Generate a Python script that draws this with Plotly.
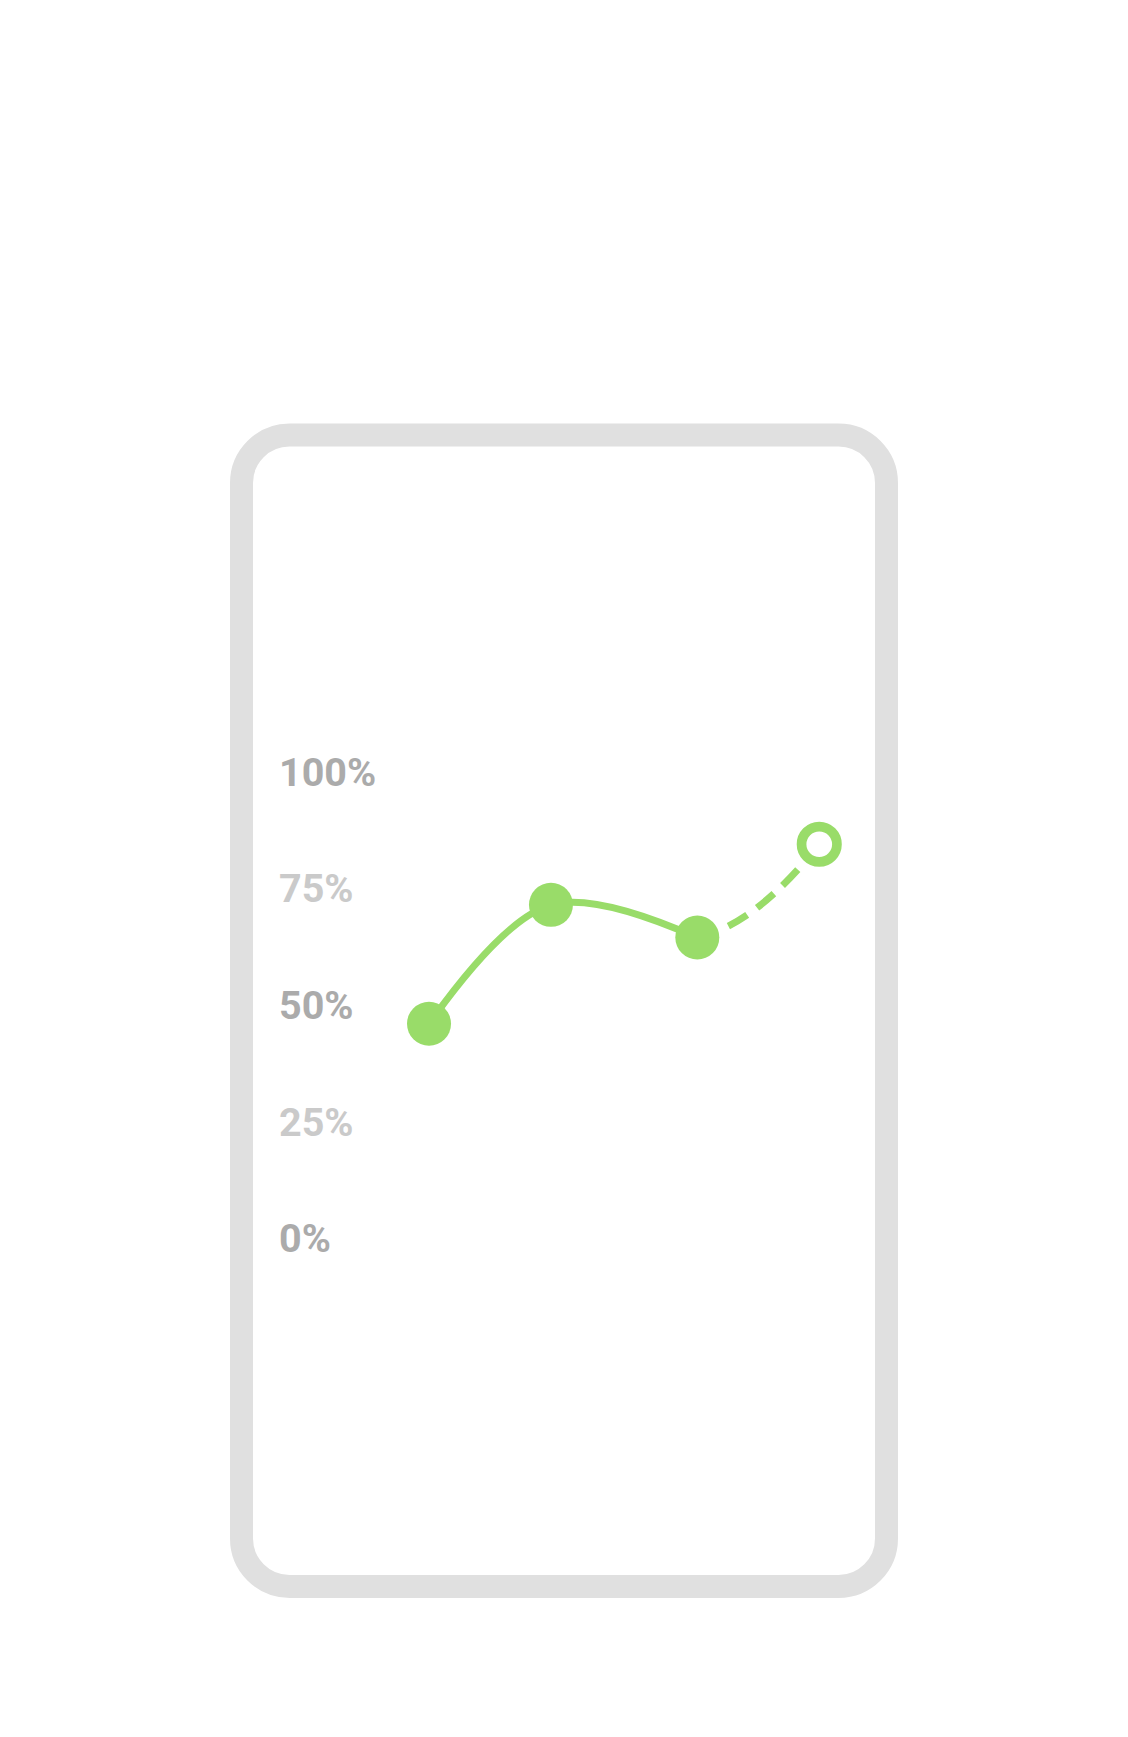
import plotly.graph_objects as go

# ---- data ----
x_vals = [0, 5, 11, 16]
y_vals = [46, 71.5, 64.5, 84.5]
tick_vals = [0, 25, 50, 75, 100]
tick_labels = ["0%", "25%", "50%", "75%", "100%"]
tick_colors = ["#ABABAB", "#CACACA", "#ABABAB", "#CACACA", "#ABABAB"]

GREEN = "#99DC69"
FRAME = "#E0E0E0"

W, H = 1128, 1737
ML, MR, MT, MB = 276, 259, 600, 337
PW = W - ML - MR
PH = H - MT - MB


def px(x):
    return (x - ML) / PW


def py(y):
    return (H - MB - y) / PH


# rounded frame (decorative, in pixel space converted to paper coords)
fx0, fx1, fy0, fy1, r = 241.5, 886.5, 435, 1586.5, 48
k = 0.5523 * r
pts = [
    ("M", [(fx0 + r, fy0)]),
    ("L", [(fx1 - r, fy0)]),
    ("C", [(fx1 - r + k, fy0), (fx1, fy0 + r - k), (fx1, fy0 + r)]),
    ("L", [(fx1, fy1 - r)]),
    ("C", [(fx1, fy1 - r + k), (fx1 - r + k, fy1), (fx1 - r, fy1)]),
    ("L", [(fx0 + r, fy1)]),
    ("C", [(fx0 + r - k, fy1), (fx0, fy1 - r + k), (fx0, fy1 - r)]),
    ("L", [(fx0, fy0 + r)]),
    ("C", [(fx0, fy0 + r - k), (fx0 + r - k, fy0), (fx0 + r, fy0)]),
]
path = ""
for cmd, ps in pts:
    path += cmd + " " + " ".join(f"{px(a):.5f},{py(b):.5f}" for a, b in ps) + " "
path += "Z"

fig = go.Figure()

# solid part
fig.add_trace(go.Scatter(
    x=x_vals[:3], y=y_vals[:3], mode="lines",
    line=dict(color=GREEN, width=7, shape="spline", smoothing=1),
    hoverinfo="skip", showlegend=False))

# dashed projection (curve continues from previous point; first part hidden by dash pattern)
fig.add_trace(go.Scatter(
    x=x_vals[1:], y=y_vals[1:], mode="lines",
    line=dict(color=GREEN, width=7, shape="spline", smoothing=1.3,
              dash="0px,186px,22px,12px,22px,12px,22px,12px,22px,12px,22px,12px"),
    hoverinfo="skip", showlegend=False))

# filled markers
fig.add_trace(go.Scatter(
    x=x_vals[:3], y=y_vals[:3], mode="markers",
    marker=dict(color=GREEN, size=44, line=dict(width=0)),
    hoverinfo="skip", showlegend=False))

# open marker
fig.add_trace(go.Scatter(
    x=x_vals[3:], y=y_vals[3:], mode="markers",
    marker=dict(color="white", size=35.4, line=dict(color=GREEN, width=9.7)),
    hoverinfo="skip", showlegend=False))

fig.update_layout(
    width=W, height=H,
    margin=dict(l=ML, r=MR, t=MT, b=MB, pad=0),
    paper_bgcolor="white", plot_bgcolor="white",
    showlegend=False,
    shapes=[dict(type="path", xref="paper", yref="paper", path=path,
                 line=dict(color=FRAME, width=23), fillcolor="rgba(0,0,0,0)",
                 layer="below")],
    xaxis=dict(visible=False, range=[-6.274, 18.04], fixedrange=True),
    yaxis=dict(
        range=[-34.68, 136.88],
        tickmode="array", tickvals=tick_vals,
        ticktext=[f"<span style='color:{c}'>{t}</span>" for t, c in zip(tick_labels, tick_colors)],
        ticklabelposition="inside",
        ticks="", showgrid=False, zeroline=False, showline=False,
        tickfont=dict(family="Roboto", size=39.5, weight=700, color="#ABABAB"),
        fixedrange=True,
    ),
)

fig.write_html("out.html")
